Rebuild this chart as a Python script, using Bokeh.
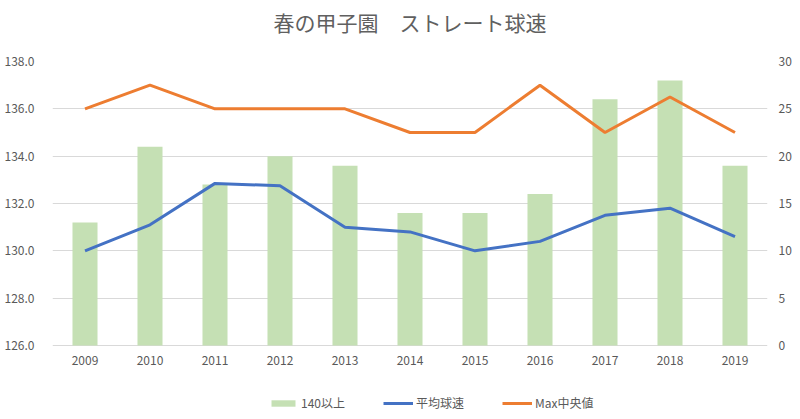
from bokeh.plotting import figure
from bokeh.models import Range1d, LinearAxis, Legend, LegendItem, FactorRange, ColumnDataSource, NumeralTickFormatter, FixedTicker, Title
from bokeh.core.properties import value
from bokeh.embed import file_html
from bokeh.resources import INLINE

years = ["2009", "2010", "2011", "2012", "2013", "2014", "2015", "2016", "2017", "2018", "2019"]
over140 = [13, 21, 17, 20, 19, 14, 14, 16, 26, 28, 19]
avg_speed = [130.0, 131.1, 132.85, 132.75, 131.0, 130.8, 130.0, 130.4, 131.5, 131.8, 130.6]
max_median = [136.0, 137.0, 136.0, 136.0, 136.0, 135.0, 135.0, 137.0, 135.0, 136.5, 135.0]
left_ticks = [126.0, 128.0, 130.0, 132.0, 134.0, 136.0, 138.0]
right_ticks = [0, 5, 10, 15, 20, 25, 30]

FONT = "Noto Sans CJK JP"
GRAY = "#595959"

# layout: data area 284px tall, extra 74px below it for year labels and legend
DATA_PX = 284
EXTRA_PX = 74
L_LO, L_HI = left_ticks[0], left_ticks[-1]
R_LO, R_HI = right_ticks[0], right_ticks[-1]
l_per_px = (L_HI - L_LO) / DATA_PX
r_per_px = (R_HI - R_LO) / DATA_PX
label_y = L_LO - 15 * l_per_px

src = ColumnDataSource(dict(year=years, over140=over140, avg=avg_speed, mx=max_median,
                            ly=[label_y] * len(years)))

p = figure(frame_width=715, frame_height=DATA_PX + EXTRA_PX,
           x_range=FactorRange(*years, range_padding=0),
           y_range=Range1d(L_LO - EXTRA_PX * l_per_px, L_HI), output_backend="svg", toolbar_location=None,
           min_border_left=52, min_border_right=33, min_border_top=61, min_border_bottom=0)
p.extra_y_ranges = {"right": Range1d(R_LO - EXTRA_PX * r_per_px, R_HI)}

# spacer between frame and title
p.add_layout(Title(text=" ", text_font_size="12px", standoff=8), "above")

p.title.text = "春の甲子園　ストレート球速"
p.title.align = "center"
p.title.text_font = FONT
p.title.text_font_size = "21px"
p.title.text_font_style = "normal"
p.title.text_color = "#606060"
p.title.standoff = 2

p.outline_line_color = None
p.xgrid.grid_line_color = None
p.ygrid.grid_line_color = "#d9d9d9"
p.ygrid.ticker = FixedTicker(ticks=left_ticks)

bars = p.vbar(x="year", top="over140", bottom=0, width=0.385, source=src,
              y_range_name="right", fill_color="#c5e0b4", line_color=None)
l1 = p.line(x="year", y="avg", source=src, line_color="#4472c4", line_width=3)
l2 = p.line(x="year", y="mx", source=src, line_color="#ed7d31", line_width=3)

# category labels under the data area
p.text(x="year", y="ly", text="year", source=src, text_font=value(FONT), text_font_size="12px",
       text_color=GRAY, text_align="center", text_baseline="middle")

yl = p.yaxis[0]
yl.ticker = FixedTicker(ticks=left_ticks)
yl.formatter = NumeralTickFormatter(format="0.0")

yr = LinearAxis(y_range_name="right", ticker=FixedTicker(ticks=right_ticks))
p.add_layout(yr, "right")

for ax in [yl, yr]:
    ax.axis_line_color = None
    ax.major_tick_line_color = None
    ax.minor_tick_line_color = None
    ax.major_label_text_font = FONT
    ax.major_label_text_font_size = "12px"
    ax.major_label_text_color = GRAY
yl.major_label_standoff = 12
yr.major_label_standoff = 5

p.xaxis.visible = False

legend = Legend(items=[LegendItem(label="140以上", renderers=[bars]),
                       LegendItem(label="平均球速", renderers=[l1]),
                       LegendItem(label="Max中央値", renderers=[l2])],
                orientation="horizontal", location=(216, 8),
                label_text_font=FONT, label_text_font_size="12px", label_text_color=GRAY,
                glyph_width=30, glyph_height=8, label_height=12, spacing=38, label_standoff=3,
                border_line_color=None, background_fill_alpha=0, margin=0, padding=0)
p.add_layout(legend, "center")

open("out.html", "w").write(file_html(p, INLINE))
